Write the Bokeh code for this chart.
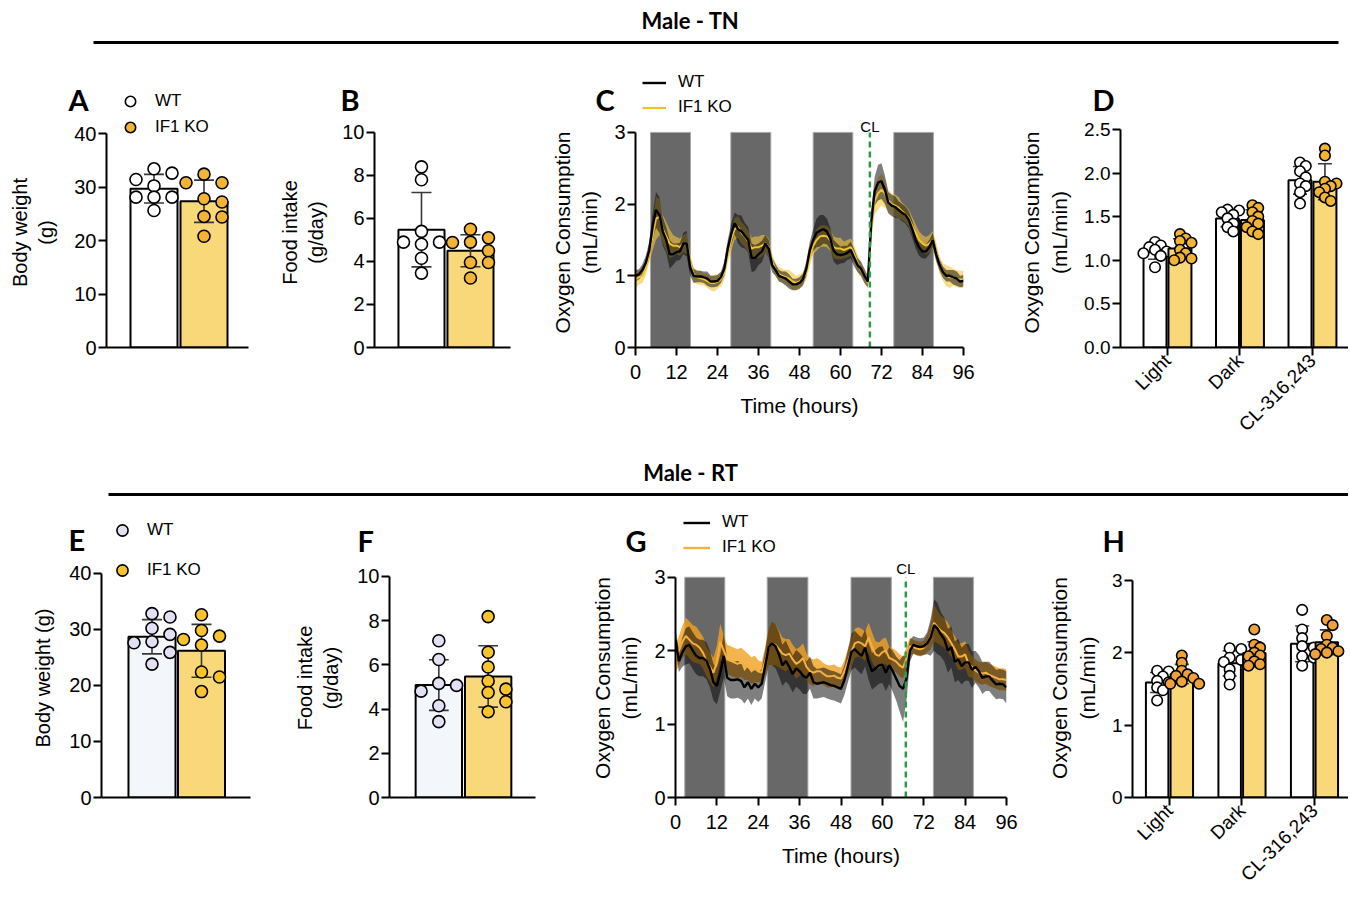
import numpy as np
from bokeh.plotting import figure
from bokeh.layouts import row, column
from bokeh.models import (Range1d, Label, Legend, LegendItem, FixedTicker,
                          BoxAnnotation, NumeralTickFormatter)
from bokeh.embed import file_html
from bokeh.resources import INLINE

FONT = "Liberation Sans"
BOLD = "Lato"

# ---------------- data ----------------
groups2 = ["WT", "IF1 KO"]
# TN (top row)
bw_tn_wt = [33.4, 32.6, 31.4, 30.2, 28.1, 28.1, 28.1, 25.6]
bw_tn_ko = [32.4, 30.8, 30.8, 27.8, 27.2, 24.5, 24.4, 20.8]
fi_tn_wt = [8.4, 7.8, 5.4, 4.9, 4.9, 4.8, 4.15, 3.46]
fi_tn_ko = [5.5, 5.1, 4.9, 4.88, 4.5, 3.95, 3.95, 3.23]
conditions = ["Light", "Dark", "CL-316,243"]
vo2_tn_wt = [[1.21, 1.17, 1.15, 1.12, 1.10, 1.08, 1.05, 0.92],
             [1.58, 1.57, 1.55, 1.52, 1.48, 1.42, 1.38, 1.33],
             [2.12, 2.08, 2.02, 1.95, 1.88, 1.85, 1.78, 1.65]]
vo2_tn_ko = [[1.30, 1.25, 1.22, 1.20, 1.12, 1.08, 1.03, 1.00, 1.02],
             [1.63, 1.60, 1.55, 1.50, 1.45, 1.42, 1.38, 1.33, 1.30],
             [2.28, 2.20, 1.90, 1.88, 1.85, 1.82, 1.78, 1.72, 1.68]]
# RT (bottom row)
bw_rt_wt = [32.8, 32.2, 30.2, 29.1, 27.8, 27.6, 25.9, 23.8]
bw_rt_ko = [32.6, 29.8, 28.8, 28.2, 27.2, 22.4, 21.5, 18.9]
fi_rt_wt = [7.09, 6.24, 5.16, 5.07, 4.81, 4.72, 4.15, 3.43]
fi_rt_ko = [8.18, 6.57, 5.90, 5.27, 4.90, 4.75, 4.33, 3.88]
vo2_rt_wt = [[1.75, 1.74, 1.67, 1.61, 1.59, 1.52, 1.48, 1.34],
             [2.06, 2.05, 1.93, 1.90, 1.87, 1.77, 1.68, 1.56],
             [2.59, 2.32, 2.20, 2.09, 2.07, 1.95, 1.93, 1.82]]
vo2_rt_ko = [[1.96, 1.86, 1.75, 1.70, 1.68, 1.65, 1.60, 1.57, 1.57],
             [2.32, 2.11, 2.07, 2.00, 1.96, 1.95, 1.88, 1.84, 1.82],
             [2.45, 2.38, 2.23, 2.11, 2.07, 2.05, 2.02, 2.00, 1.98]]

# time courses (hourly, 0..96 h)
tn_wt_mean = [1.00, 1.02, 1.08, 1.18, 1.35, 1.68, 1.92, 1.85, 1.62, 1.50,
              1.30, 1.30, 1.33, 1.34, 1.45, 1.45, 1.12, 1.00, 0.99, 0.99,
              0.98, 0.96, 0.92, 0.92, 0.93, 0.98, 1.10, 1.38, 1.58, 1.73,
              1.65, 1.62, 1.56, 1.50, 1.25, 1.25, 1.30, 1.34, 1.45, 1.38,
              1.15, 1.08, 1.00, 0.98, 0.96, 0.92, 0.88, 0.88, 0.90, 0.95,
              1.10, 1.35, 1.50, 1.60, 1.63, 1.65, 1.62, 1.52, 1.35, 1.30,
              1.29, 1.30, 1.32, 1.36, 1.25, 1.15, 1.10, 1.00, 0.92, 1.75,
              2.18, 2.30, 2.32, 2.20, 2.02, 1.98, 1.96, 1.92, 1.88, 1.85,
              1.78, 1.65, 1.50, 1.40, 1.34, 1.34, 1.40, 1.50, 1.30, 1.15,
              1.05, 1.00, 1.00, 0.98, 0.96, 0.92, 0.93]
tn_wt_sem = [0.08, 0.07, 0.08, 0.10, 0.12, 0.18, 0.25, 0.25, 0.20, 0.18,
             0.20, 0.15, 0.12, 0.12, 0.15, 0.18, 0.12, 0.10, 0.08, 0.08,
             0.08, 0.10, 0.08, 0.08, 0.08, 0.08, 0.10, 0.12, 0.15, 0.15,
             0.20, 0.22, 0.18, 0.18, 0.20, 0.18, 0.15, 0.15, 0.12, 0.12,
             0.10, 0.08, 0.08, 0.08, 0.10, 0.10, 0.08, 0.08, 0.08, 0.08,
             0.10, 0.12, 0.15, 0.20, 0.22, 0.20, 0.18, 0.15, 0.15, 0.15,
             0.12, 0.12, 0.10, 0.12, 0.12, 0.10, 0.10, 0.10, 0.08, 0.15,
             0.20, 0.25, 0.25, 0.20, 0.15, 0.15, 0.15, 0.12, 0.12, 0.12,
             0.12, 0.12, 0.12, 0.12, 0.10, 0.10, 0.10, 0.10, 0.10, 0.08,
             0.08, 0.08, 0.08, 0.10, 0.10, 0.08, 0.08]
tn_ko_mean = [0.95, 0.98, 1.00, 1.10, 1.30, 1.55, 1.80, 1.82, 1.65, 1.55,
              1.45, 1.42, 1.42, 1.40, 1.45, 1.45, 1.20, 1.02, 0.98, 0.97,
              0.95, 0.93, 0.90, 0.90, 0.92, 0.95, 1.05, 1.30, 1.50, 1.65,
              1.68, 1.60, 1.55, 1.48, 1.38, 1.40, 1.40, 1.42, 1.45, 1.40,
              1.20, 1.08, 1.02, 1.00, 0.98, 0.96, 0.92, 0.90, 0.92, 0.95,
              1.05, 1.25, 1.42, 1.50, 1.55, 1.56, 1.55, 1.50, 1.40, 1.38,
              1.38, 1.36, 1.38, 1.40, 1.30, 1.18, 1.08, 1.00, 0.90, 1.65,
              2.05, 2.15, 2.20, 2.15, 2.05, 2.00, 1.98, 1.95, 1.90, 1.86,
              1.80, 1.70, 1.60, 1.50, 1.45, 1.42, 1.45, 1.50, 1.35, 1.15,
              1.05, 1.00, 0.98, 0.98, 0.96, 0.95, 0.95]
tn_ko_sem = [0.12, 0.10, 0.10, 0.10, 0.12, 0.20, 0.30, 0.25, 0.20, 0.20,
             0.20, 0.15, 0.12, 0.12, 0.12, 0.15, 0.10, 0.10, 0.10, 0.10,
             0.08, 0.10, 0.10, 0.12, 0.10, 0.10, 0.10, 0.12, 0.15, 0.15,
             0.15, 0.15, 0.15, 0.15, 0.15, 0.15, 0.15, 0.15, 0.12, 0.12,
             0.10, 0.10, 0.10, 0.10, 0.10, 0.12, 0.12, 0.10, 0.10, 0.10,
             0.10, 0.12, 0.12, 0.15, 0.15, 0.15, 0.15, 0.15, 0.15, 0.15,
             0.15, 0.12, 0.12, 0.12, 0.12, 0.12, 0.10, 0.10, 0.08, 0.15,
             0.20, 0.22, 0.22, 0.20, 0.15, 0.15, 0.15, 0.15, 0.12, 0.12,
             0.12, 0.12, 0.12, 0.12, 0.12, 0.12, 0.12, 0.12, 0.12, 0.12,
             0.12, 0.15, 0.15, 0.12, 0.12, 0.12, 0.12]
rt_wt_mean = [2.15, 1.86, 1.98, 2.06, 2.08, 2.00, 1.93, 1.90, 1.90, 1.86,
              1.75, 1.57, 1.52, 1.70, 1.93, 1.63, 1.60, 1.60, 1.61, 1.59,
              1.50, 1.57, 1.48, 1.55, 1.50, 1.55, 1.79, 2.05, 2.10, 2.06,
              1.95, 1.80, 1.86, 1.78, 1.68, 1.76, 1.72, 1.66, 1.63, 1.70,
              1.57, 1.55, 1.56, 1.57, 1.55, 1.53, 1.52, 1.50, 1.48, 1.60,
              1.79, 1.98, 2.02, 1.97, 1.93, 2.04, 1.85, 1.72, 1.76, 1.80,
              1.81, 1.70, 1.80, 1.72, 1.62, 1.52, 1.48, 1.62, 2.00, 2.08,
              2.06, 2.05, 2.06, 2.10, 2.18, 2.35, 2.30, 2.22, 2.15, 2.00,
              2.05, 1.85, 1.88, 1.79, 1.84, 1.84, 1.74, 1.78, 1.72, 1.63,
              1.65, 1.65, 1.59, 1.54, 1.55, 1.54, 1.50]
rt_wt_sem = [0.15, 0.15, 0.20, 0.25, 0.25, 0.25, 0.25, 0.25, 0.25, 0.25,
             0.25, 0.25, 0.25, 0.25, 0.30, 0.25, 0.25, 0.25, 0.25, 0.25,
             0.22, 0.22, 0.22, 0.20, 0.20, 0.20, 0.22, 0.25, 0.30, 0.30,
             0.30, 0.28, 0.28, 0.25, 0.25, 0.25, 0.25, 0.25, 0.22, 0.22,
             0.22, 0.20, 0.20, 0.20, 0.20, 0.20, 0.20, 0.20, 0.20, 0.20,
             0.22, 0.25, 0.25, 0.25, 0.25, 0.25, 0.25, 0.25, 0.25, 0.25,
             0.25, 0.25, 0.25, 0.28, 0.30, 0.35, 0.45, 0.30, 0.15, 0.12,
             0.12, 0.12, 0.12, 0.15, 0.25, 0.35, 0.35, 0.30, 0.30, 0.30,
             0.28, 0.28, 0.28, 0.25, 0.25, 0.25, 0.25, 0.22, 0.22, 0.22,
             0.20, 0.20, 0.20, 0.20, 0.20, 0.20, 0.22]
rt_ko_mean = [1.88, 2.00, 2.12, 2.20, 2.15, 2.10, 2.08, 2.04, 1.97, 1.85,
              1.78, 1.70, 1.85, 2.12, 2.00, 1.88, 1.86, 1.84, 1.82, 1.84,
              1.80, 1.78, 1.73, 1.75, 1.72, 1.70, 1.85, 2.05, 2.10, 2.08,
              2.02, 1.96, 1.94, 1.96, 1.88, 1.82, 1.85, 1.90, 1.78, 1.72,
              1.70, 1.72, 1.72, 1.68, 1.65, 1.65, 1.66, 1.63, 1.62, 1.72,
              1.85, 1.98, 2.10, 2.12, 2.10, 2.06, 2.18, 2.05, 1.95, 1.93,
              1.98, 2.00, 1.90, 1.88, 1.85, 1.80, 1.77, 1.90, 2.06, 2.05,
              2.03, 2.02, 2.04, 2.10, 2.20, 2.38, 2.32, 2.27, 2.24, 2.18,
              2.10, 2.02, 1.92, 1.92, 1.95, 1.82, 1.78, 1.73, 1.70, 1.69,
              1.70, 1.67, 1.65, 1.63, 1.61, 1.61, 1.60]
rt_ko_sem = [0.18, 0.20, 0.22, 0.25, 0.25, 0.25, 0.25, 0.22, 0.22, 0.20,
             0.20, 0.20, 0.22, 0.25, 0.20, 0.20, 0.20, 0.20, 0.20, 0.20,
             0.20, 0.18, 0.18, 0.18, 0.15, 0.15, 0.20, 0.25, 0.30, 0.28,
             0.25, 0.22, 0.22, 0.20, 0.20, 0.20, 0.20, 0.20, 0.18, 0.18,
             0.18, 0.18, 0.15, 0.15, 0.15, 0.15, 0.15, 0.15, 0.15, 0.15,
             0.18, 0.20, 0.20, 0.20, 0.20, 0.20, 0.20, 0.20, 0.18, 0.18,
             0.18, 0.18, 0.15, 0.15, 0.15, 0.15, 0.15, 0.15, 0.12, 0.10,
             0.10, 0.10, 0.10, 0.12, 0.18, 0.25, 0.22, 0.20, 0.20, 0.20,
             0.18, 0.18, 0.18, 0.18, 0.18, 0.18, 0.15, 0.15, 0.15, 0.15,
             0.15, 0.15, 0.15, 0.15, 0.15, 0.15, 0.15]
tn_dark_start = [4.4, 27.9, 52.0, 75.6]
tn_dark_end = [16.1, 39.6, 63.6, 87.2]
tn_cl_time = 68.6
rt_dark_start = [2.7, 26.6, 50.9, 74.8]
rt_dark_end = [14.3, 38.4, 62.6, 86.4]
rt_cl_time = 66.8
time_ticks = [0, 12, 24, 36, 48, 60, 72, 84, 96]

# ---------------- colours ----------------
KO_BAR = "#F9D87A"
KO_PT = "#F2B432"
WT_E_BAR = "#F3F6FA"
WT_E_PT = "#E4E0F4"
KO_E_PT = "#F7C52B"
KO_H_PT = "#F0A23A"
TN_KO_LINE = "#F2C12E"
RT_KO_LINE = "#F6B040"
PAGE_W = 1348


# ---------------- helpers ----------------
def style_axis(ax, tsize, lsize):
    ax.axis_line_width = 2
    ax.axis_line_color = "black"
    ax.major_tick_line_width = 2
    ax.major_tick_line_color = "black"
    ax.major_tick_out = 8
    ax.major_tick_in = 0
    ax.minor_tick_line_color = None
    ax.major_label_text_font = FONT
    ax.major_label_text_font_size = tsize
    ax.major_label_text_color = "black"
    ax.major_label_standoff = 2
    ax.axis_label_text_font = FONT
    ax.axis_label_text_font_size = lsize
    ax.axis_label_text_font_style = "normal"
    ax.axis_label_text_color = "black"


def make_main(geom, xr, ymax, ext, tsize="20px", lsize="20px"):
    """geom = (width, height, left, right, bottom); the frame reaches the top of
    the figure while the y axis itself stays bounded to [0, ymax]."""
    w, h, l, r, b = geom
    fh = h - b
    ppy = (fh - ext) / ymax
    p = figure(width=w, height=h, x_range=Range1d(*xr),
               y_range=Range1d(0, ymax + ext / ppy),
               output_backend="svg", toolbar_location=None, title=None,
               min_border_left=l, min_border_right=r, min_border_top=0,
               min_border_bottom=b)
    p.outline_line_color = None
    p.xgrid.visible = False
    p.ygrid.visible = False
    p.background_fill_color = "white"
    for ax in p.axis:
        style_axis(ax, tsize, lsize)
    p.yaxis.bounds = (0, ymax)
    ppx = (w - l - r) / (xr[1] - xr[0])
    return p, ppx, ppy


def make_strip(w, h):
    s = figure(width=w, height=h, x_range=Range1d(0, w), y_range=Range1d(0, h),
               output_backend="svg", toolbar_location=None, title=None,
               x_axis_location=None, y_axis_location=None, min_border=0)
    s.outline_line_color = None
    s.xgrid.visible = False
    s.ygrid.visible = False
    return s


def strip_text(s, top, txt, x, yc, size, bold, align="left", font=BOLD):
    s.add_layout(Label(x=x, y=s.height - (yc - top), text=txt, text_font=font,
                       text_font_size=size, text_font_style="bold" if bold else "normal",
                       text_align=align, text_baseline="middle", text_color="black"))


def add_legend(p, items, vx, vy, gw, gh, so, spacing=0):
    p.add_layout(Legend(items=items, location=(vx, vy), glyph_width=gw, glyph_height=gh,
                        label_height=gh, spacing=spacing, padding=0, margin=0,
                        label_standoff=so, label_text_font=FONT,
                        label_text_font_size="17px", label_text_color="black",
                        border_line_color=None, background_fill_alpha=0))


def key_circle(s, fill):
    # legend-key renderer only: a single NaN point draws nothing in the plot
    return s.scatter(x=[np.nan], y=[np.nan], marker="circle", size=10, fill_color=fill,
                     line_color="black", line_width=1.6)


def key_line(s, col, lw):
    return s.line(x=[np.nan, np.nan], y=[np.nan, np.nan], line_color=col, line_width=lw)


def swarm(vals, xc, ppx, ppy, diam, step_fac, min_fac):
    vals = np.asarray(vals, float)
    order = np.argsort(-vals, kind="stable")
    placed = []
    xs = np.zeros(len(vals))
    step = diam * step_fac
    cands = [0]
    for j in range(1, 8):
        cands += [j, -j]
    for i in order:
        py = vals[i] * ppy
        px = 0.0
        for c in cands:
            px = c * step
            if all((px - qx) ** 2 + (py - qy) ** 2 >= (min_fac * diam) ** 2 for qx, qy in placed):
                break
        placed.append((px, py))
        xs[i] = xc + px / ppx
    return xs


def bar_panel(geom, ext, xr, ymax, yticks, groups, diam, step_fac, min_fac, cap_px,
              ylabel, ystandoff, tsize="20px", lsize="20px"):
    p, ppx, ppy = make_main(geom, xr, ymax, ext, tsize, lsize)
    rends = []
    for xc, vals, bar_fill, pt_fill, bwid in groups:
        v = np.asarray(vals, float)
        m, sd = v.mean(), v.std(ddof=1)
        p.vbar(x=[xc], top=[m], bottom=0, width=bwid, fill_color=bar_fill,
               line_color="black", line_width=2)
        cw = cap_px / ppx
        p.segment(x0=[xc], x1=[xc], y0=[m - sd], y1=[m + sd], line_color="#383838",
                  line_width=1.6)
        p.segment(x0=[xc - cw, xc - cw], x1=[xc + cw, xc + cw], y0=[m - sd, m + sd],
                  y1=[m - sd, m + sd], line_color="#383838", line_width=1.6)
        xs = swarm(v, xc, ppx, ppy, diam, step_fac, min_fac)
        rr = p.scatter(x=xs, y=v, size=diam, marker="circle", fill_color=pt_fill,
                       line_color="black", line_width=1.6)
        rends.append(rr)
    p.yaxis.ticker = FixedTicker(ticks=yticks)
    p.yaxis.axis_label = ylabel
    p.yaxis.axis_label_standoff = ystandoff
    p.xaxis.ticker = FixedTicker(ticks=[])
    return p, rends


def ts_panel(geom, ext, wt_m, wt_s, ko_m, ko_s, dstart, dend, cl_t, ko_line, ko_band,
             ko_alpha, wt_alpha, cl_px):
    ymax = 3
    p, ppx, ppy = make_main(geom, (0, 96), ymax, ext, "20px", "21px")
    n = min(len(wt_m), len(wt_s), len(ko_m), len(ko_s))
    hrs = np.arange(n)
    wm, ws = np.array(wt_m[:n]), np.array(wt_s[:n])
    km, ks = np.array(ko_m[:n]), np.array(ko_s[:n])
    nd = len(dstart)
    p.quad(left=dstart, right=dend, bottom=[0] * nd, top=[ymax] * nd,
           fill_color="#686868", line_color="#a8a8a8", line_width=1)
    p.varea(x=hrs, y1=km - ks, y2=km + ks, fill_color=ko_band, fill_alpha=ko_alpha)
    p.varea(x=hrs, y1=wm - ws, y2=wm + ws, fill_color="black", fill_alpha=wt_alpha)
    p.line(hrs, km, line_color=ko_line, line_width=2)
    p.line(hrs, wm, line_color="black", line_width=2.4)
    p.segment(x0=[cl_t], x1=[cl_t], y0=[0], y1=[ymax], line_color="#2E9A48",
              line_dash="6 4", line_width=2.5)
    p.add_layout(Label(x=cl_t, y=cl_px / ppy, text="CL", text_align="center",
                       text_baseline="middle", text_font=FONT,
                       text_font_size="15px", text_color="black"))
    p.xaxis.ticker = FixedTicker(ticks=time_ticks)
    p.yaxis.ticker = FixedTicker(ticks=[0, 1, 2, 3])
    p.xaxis.axis_label = "Time (hours)"
    p.xaxis.axis_label_standoff = 12
    p.xaxis.major_label_standoff = 9
    p.yaxis.axis_label = "Oxygen Consumption\n(mL/min)"
    p.yaxis.axis_label_standoff = 10
    return p


def cond_panel(geom, ext, xr, ymax, yticks, wt_lists, ko_lists, ko_pt, off, bwid, diam, fmt):
    groups = []
    for k in range(len(conditions)):
        groups.append((k + 1 - off, wt_lists[k], "white", "white", bwid))
        groups.append((k + 1 + off, ko_lists[k], KO_BAR, ko_pt, bwid))
    p, _ = bar_panel(geom, ext, xr, ymax, yticks, groups, diam, 0.55, 0.6, 7,
                     "Oxygen Consumption\n(mL/min)", 10, "19px", "21px")
    p.xaxis.ticker = FixedTicker(ticks=[1, 2, 3])
    p.xaxis.major_label_overrides = {k + 1: c for k, c in enumerate(conditions)}
    p.xaxis.major_label_orientation = np.pi / 4
    if fmt:
        p.yaxis.formatter = NumeralTickFormatter(format="0.0")
    return p


def rule(s, top, x0, x1, y):
    yy = s.height - (y - top)
    s.add_layout(BoxAnnotation(left=x0, right=x1, bottom=yy - 1.5, top=yy + 1.5,
                               fill_color="black", fill_alpha=1, line_color=None))


# ================= top row (TN) =================
T1, H1 = 0, 117
s1 = make_strip(PAGE_W, H1)
strip_text(s1, T1, "Male - TN", 690, 20, "22px", True, "center")
rule(s1, T1, 93, 1338, 42)
for letter, lx, ly in [("A", 68, 99), ("B", 340, 99), ("C", 595, 99), ("D", 1092, 99)]:
    strip_text(s1, T1, letter, lx, ly, "29px", True)
# legend key of A (first row) and legend of C
add_legend(s1, [LegendItem(label=groups2[0], renderers=[key_circle(s1, "white")])],
           115, H1 - (88 - T1) - 26, 30, 26, 10)
add_legend(s1, [LegendItem(label=groups2[0], renderers=[key_line(s1, "black", 2.4)]),
                LegendItem(label=groups2[1], renderers=[key_line(s1, TN_KO_LINE, 2.2)])],
           642, H1 - (69.5 - T1) - 50, 24, 25, 12)

pA, rA = bar_panel((275, 338, 106, 27, 108), 16, (0.05, 2.89), 40, [0, 10, 20, 30, 40],
                   [(1, bw_tn_wt, "white", "white", 0.94), (2, bw_tn_ko, KO_BAR, KO_PT, 0.94)],
                   12, 1.5, 0.9, 10, "Body weight\n(g)", 14)
add_legend(pA, [LegendItem(label=groups2[1], renderers=[rA[1]])], 9, 207, 30, 26, 10)

pB, rB = bar_panel((270, 338, 99, 35, 107), 15, (0.041, 2.817), 10, [0, 2, 4, 6, 8, 10],
                   [(1, fi_tn_wt, "white", "white", 0.94), (2, fi_tn_ko, KO_BAR, KO_PT, 0.94)],
                   12, 1.5, 0.9, 10, "Food intake\n(g/day)", 12)

pC = ts_panel((455, 338, 90, 37, 107), 15, tn_wt_mean, tn_wt_sem, tn_ko_mean, tn_ko_sem,
              tn_dark_start, tn_dark_end, tn_cl_time, TN_KO_LINE, "#F3C53A", 0.6, 0.5, 221.5)

pD = cond_panel((348, 338, 120, 0, 106), 12, (0.352, 3.497), 2.5,
                [0, 0.5, 1.0, 1.5, 2.0, 2.5], vo2_tn_wt, vo2_tn_ko, KO_PT, 0.172, 0.317,
                10.5, True)

# ================= bottom row (RT) =================
T2, H2 = 455, 103
s2 = make_strip(PAGE_W, H2)
strip_text(s2, T2, "Male - RT", 690, 472, "22px", True, "center")
rule(s2, T2, 108, PAGE_W, 494)
for letter, lx, ly in [("E", 68, 539), ("F", 357, 540), ("G", 625, 540), ("H", 1102, 540)]:
    strip_text(s2, T2, letter, lx, ly, "29px", True)
add_legend(s2, [LegendItem(label=groups2[0], renderers=[key_circle(s2, WT_E_PT)])],
           107, H2 - (516 - T2) - 28, 30, 28, 10)
add_legend(s2, [LegendItem(label=groups2[0], renderers=[key_line(s2, "black", 2.4)]),
                LegendItem(label=groups2[1], renderers=[key_line(s2, RT_KO_LINE, 2.4)])],
           683, H2 - (509.5 - T2) - 50, 27, 25, 12)

pE, rE = bar_panel((290, 337, 101, 40, 95), 15, (-0.02, 2.99), 40, [0, 10, 20, 30, 40],
                   [(1, bw_rt_wt, WT_E_BAR, WT_E_PT, 0.95), (2, bw_rt_ko, KO_BAR, KO_E_PT, 0.95)],
                   12, 1.5, 0.9, 10, "Body weight (g)", 12)
add_legend(pE, [LegendItem(label=groups2[1], renderers=[rE[1]])], 6, 213, 30, 28, 10)

pF, rF = bar_panel((270, 337, 97, 25, 96), 18, (0.0, 2.96), 10, [0, 2, 4, 6, 8, 10],
                   [(1, fi_rt_wt, WT_E_BAR, WT_E_PT, 0.94), (2, fi_rt_ko, KO_BAR, KO_E_PT, 0.94)],
                   12, 1.5, 0.9, 10, "Food intake\n(g/day)", 12)

pG = ts_panel((480, 337, 115, 34, 95), 19, rt_wt_mean, rt_wt_sem, rt_ko_mean, rt_ko_sem,
              rt_dark_start, rt_dark_end, rt_cl_time, RT_KO_LINE, "#F0A020", 0.8, 0.5, 232)

pH = cond_panel((308, 337, 92, 0, 95), 22, (0.49, 3.469), 3, [0, 1, 2, 3],
                vo2_rt_wt, vo2_rt_ko, KO_H_PT, 0.17, 0.31, 10.5, False)

layout = column(
    s1,
    row(pA, pB, pC, pD),
    s2,
    row(pE, pF, pG, pH),
)
open("out.html", "w").write(file_html(layout, INLINE, title="IF1 KO figure"))
